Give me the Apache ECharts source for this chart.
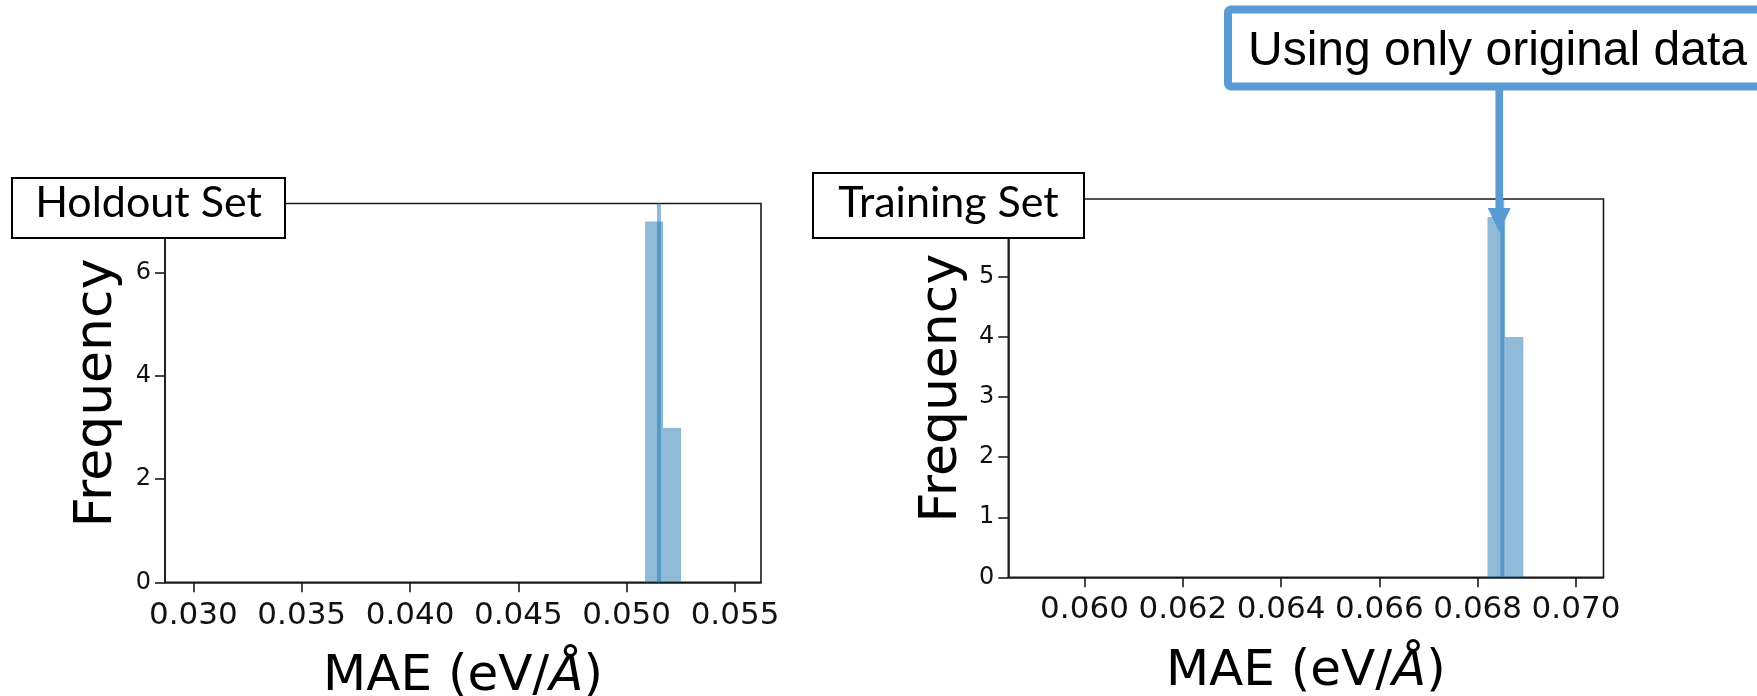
<!DOCTYPE html>
<html><head><meta charset="utf-8">
<script src="https://cdn.jsdelivr.net/npm/echarts@6/dist/echarts.min.js"></script>
<style>html,body{margin:0;padding:0;background:#fff}#c{width:1757px;height:696px}</style>
</head><body><div id="c"></div>
<script>
// ---- data ----
const holdoutBins = [[0.05085, 0.05168, 7], [0.05168, 0.05251, 3]]; // [binStart, binEnd, count]
const holdoutMean = 0.05149;
const trainingBins = [[0.06820, 0.06856, 6], [0.06856, 0.06893, 4]];
const trainingMean = 0.06850;
const holdoutXRange = [0.02869, 0.05620];
const holdoutYMax = 7.35;
const trainingXRange = [0.05845, 0.07056];
const trainingYMax = 6.3;
const holdoutXTicks = [0.030, 0.035, 0.040, 0.045, 0.050, 0.055];
const holdoutYTicks = [0, 2, 4, 6];
const trainingXTicks = [0.060, 0.062, 0.064, 0.066, 0.068, 0.070];
const trainingYTicks = [0, 1, 2, 3, 4, 5];
const panelTitles = ['Holdout Set', 'Training Set'];
const yTitle = 'Frequency';
const annotationText = 'Using only original data';

// ---- styles ----
const AX = '#1a1a1a';
const BAR = 'rgba(31,119,180,0.5)';
const BLUE = '#5B9BD5';

function xAxisCfg(idx, range, ticks, margin) {
  return {
    type: 'value', gridIndex: idx, min: range[0], max: range[1],
    axisLine: { show: true, onZero: false, lineStyle: { color: AX, width: 1.6 } },
    axisTick: { show: true, customValues: ticks, length: 10, lineStyle: { color: AX, width: 1.6 } },
    axisLabel: { customValues: ticks, formatter: v => v.toFixed(3), margin: margin,
      color: '#111', fontSize: 31, fontFamily: 'DejaVu Sans' },
    splitLine: { show: false },
    name: '{n|MAE (eV/}{i|Å}{n|)}', nameLocation: 'middle', nameGap: 70,
    nameTextStyle: { rich: {
      n: { fontSize: 50, fontFamily: 'DejaVu Sans', color: '#000' },
      i: { fontSize: 50, fontFamily: 'DejaVu Sans', fontStyle: 'italic', color: '#000' } } }
  };
}
function yAxisCfg(idx, max, ticks, gap) {
  return {
    type: 'value', gridIndex: idx, min: 0, max: max,
    axisLine: { show: true, lineStyle: { color: AX, width: 1.6 } },
    axisTick: { show: true, customValues: ticks, length: 10, lineStyle: { color: AX, width: 1.6 } },
    axisLabel: { customValues: ticks, margin: 14, color: '#111', fontSize: 24, fontFamily: 'DejaVu Sans' },
    splitLine: { show: false },
    name: yTitle, nameLocation: 'middle', nameGap: gap, nameRotate: 90,
    nameTextStyle: { fontSize: 52, fontFamily: 'DejaVu Sans', color: '#000' }
  };
}
function histSeries(idx, bins) {
  return {
    type: 'custom', xAxisIndex: idx, yAxisIndex: idx, data: bins, z: 2, silent: true,
    encode: { x: [0, 1], y: 2 },
    renderItem: (params, api) => {
      const p0 = api.coord([api.value(0), api.value(2)]);
      const p1 = api.coord([api.value(1), 0]);
      return { type: 'rect', shape: { x: p0[0], y: p0[1], width: p1[0] - p0[0], height: p1[1] - p0[1] },
        style: { fill: BAR } };
    }
  };
}
function meanSeries(idx, mean, ymax) {
  return {
    type: 'custom', xAxisIndex: idx, yAxisIndex: idx, data: [[mean, 0, ymax]], z: 3, silent: true,
    encode: { x: 0, y: [1, 2] },
    renderItem: (params, api) => {
      const b = api.coord([api.value(0), api.value(1)]);
      const t = api.coord([api.value(0), api.value(2)]);
      return { type: 'line', shape: { x1: b[0], y1: b[1], x2: t[0], y2: t[1] },
        style: { stroke: BAR, lineWidth: 4 } };
    }
  };
}

const chart = echarts.init(document.getElementById('c'), null, { renderer: 'canvas' });
chart.setOption({
  animation: false,
  backgroundColor: '#fff',
  grid: [
    { left: 165, top: 203.5, width: 596, height: 378.8, show: true, borderColor: AX, borderWidth: 1.6,
      containLabel: false, outerBoundsMode: 'none' },
    { left: 1008.3, top: 199, width: 595.2, height: 378.3, show: true, borderColor: AX, borderWidth: 1.6,
      containLabel: false, outerBoundsMode: 'none' }
  ],
  xAxis: [xAxisCfg(0, holdoutXRange, holdoutXTicks, 18), xAxisCfg(1, trainingXRange, trainingXTicks, 17)],
  yAxis: [yAxisCfg(0, holdoutYMax, holdoutYTicks, 42), yAxisCfg(1, trainingYMax, trainingYTicks, 40)],
  series: [histSeries(0, holdoutBins), meanSeries(0, holdoutMean, holdoutYMax),
           histSeries(1, trainingBins), meanSeries(1, trainingMean, trainingYMax)]
});

const ax = chart.convertToPixel({ xAxisIndex: 1 }, trainingMean) - 3;
const boxFont = '43px Lato';
chart.setOption({
  graphic: [
    { type: 'rect', z: 100, shape: { x: 12, y: 178, width: 273, height: 60 },
      style: { fill: '#fff', stroke: '#000', lineWidth: 2 } },
    { type: 'text', z: 101, style: { x: 148.5, y: 203, text: panelTitles[0], font: boxFont,
      fill: '#000', align: 'center', verticalAlign: 'middle' } },
    { type: 'rect', z: 100, shape: { x: 813, y: 173, width: 271, height: 65 },
      style: { fill: '#fff', stroke: '#000', lineWidth: 2 } },
    { type: 'text', z: 101, style: { x: 948.5, y: 203, text: panelTitles[1], font: boxFont,
      fill: '#000', align: 'center', verticalAlign: 'middle' } },
    { type: 'rect', z: 100, shape: { x: 1228, y: 9.5, width: 600, height: 77, r: 3 },
      style: { fill: '#fff', stroke: BLUE, lineWidth: 8 } },
    { type: 'text', z: 101, style: { x: 1248, y: 51.5, text: annotationText,
      font: '48px "Liberation Sans"', fill: '#000', align: 'left', verticalAlign: 'middle' } },
    { type: 'line', z: 100, shape: { x1: ax, y1: 90, x2: ax, y2: 210 },
      style: { stroke: BLUE, lineWidth: 7.6 } },
    { type: 'polygon', z: 100, shape: { points: [[ax - 11.5, 208], [ax + 11.5, 208], [ax, 232]] },
      style: { fill: BLUE } }
  ]
});
</script>
</body></html>
